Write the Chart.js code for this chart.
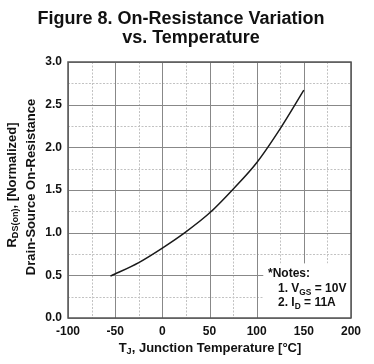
<!DOCTYPE html>
<html><head><meta charset="utf-8">
<script src="https://cdn.jsdelivr.net/npm/chart.js@4"></script>
<style>html,body{margin:0;padding:0;background:#fff}#wrap{width:374px;height:364px}</style>
</head><body><div id="wrap"><canvas id="c" width="374" height="364"></canvas></div>
<script>
// Data
const tempC = [-55, -25, 0, 25, 50, 75, 100, 125, 150];
const rdsNorm = [0.49, 0.65, 0.82, 1.01, 1.23, 1.51, 1.82, 2.22, 2.67];
const xTicks = [-100, -50, 0, 50, 100, 150, 200];
const yTicks = [0.0, 0.5, 1.0, 1.5, 2.0, 2.5, 3.0];
const xMinor = [-75, -25, 25, 75, 125, 175];
const yMinor = [0.25, 0.75, 1.25, 1.75, 2.25, 2.75];

const FONT = '"Liberation Sans", Arial, sans-serif';

function drawRich(ctx, parts, x, y, size, align) {
  let w = 0;
  const widths = parts.map(p => {
    ctx.font = 'bold ' + (p[1] ? size * 0.7 : size) + 'px ' + FONT;
    const m = ctx.measureText(p[0]).width; w += m; return m;
  });
  let cx = align === 'center' ? x - w / 2 : (align === 'right' ? x - w : x);
  ctx.textBaseline = 'middle';
  ctx.textAlign = 'left';
  parts.forEach((p, i) => {
    ctx.font = 'bold ' + (p[1] ? size * 0.7 : size) + 'px ' + FONT;
    ctx.fillText(p[0], cx, p[1] ? y + size * 0.3 : y);
    cx += widths[i];
  });
}

const decor = {
  id: 'decor',
  beforeDatasetsDraw(chart) {
    const ctx = chart.ctx, xs = chart.scales.x, ys = chart.scales.y, a = chart.chartArea;
    ctx.save();
    ctx.strokeStyle = '#c2c2c2'; ctx.lineWidth = 1; ctx.setLineDash([2, 1.5]);
    xMinor.forEach(v => { const p = Math.round(xs.getPixelForValue(v)) + 0.5; ctx.beginPath(); ctx.moveTo(p, a.top); ctx.lineTo(p, a.bottom); ctx.stroke(); });
    yMinor.forEach(v => { const p = Math.round(ys.getPixelForValue(v)) + 0.5; ctx.beginPath(); ctx.moveTo(a.left, p); ctx.lineTo(a.right, p); ctx.stroke(); });
    ctx.setLineDash([]); ctx.strokeStyle = '#888';
    xTicks.forEach(v => { const p = Math.round(xs.getPixelForValue(v)) + 0.5; ctx.beginPath(); ctx.moveTo(p, a.top); ctx.lineTo(p, a.bottom); ctx.stroke(); });
    yTicks.forEach(v => { const p = Math.round(ys.getPixelForValue(v)) + 0.5; ctx.beginPath(); ctx.moveTo(a.left, p); ctx.lineTo(a.right, p); ctx.stroke(); });
    const bx = xs.getPixelForValue(107), by = ys.getPixelForValue(0.64);
    ctx.fillStyle = '#fff';
    ctx.fillRect(bx, by, a.right - bx, a.bottom - by);
    ctx.strokeStyle = '#555'; ctx.lineWidth = 1.5;
    ctx.strokeRect(a.left, a.top, a.right - a.left, a.bottom - a.top);
    ctx.restore();
  },
  afterDraw(chart) {
    const ctx = chart.ctx;
    ctx.save();
    ctx.fillStyle = '#111';
    drawRich(ctx, [['Figure 8. On-Resistance Variation', false]], 181, 19, 18, 'center');
    drawRich(ctx, [['vs. Temperature', false]], 191, 38, 18, 'center');
    drawRich(ctx, [['*Notes:', false]], 268, 274, 12, 'left');
    drawRich(ctx, [['1. V', false], ['GS', true], [' = 10V', false]], 278, 289, 12, 'left');
    drawRich(ctx, [['2. I', false], ['D', true], [' = 11A', false]], 278, 303, 12, 'left');
    drawRich(ctx, [['T', false], ['J', true], [', Junction Temperature [°C]', false]], 210, 348, 13, 'center');
    ctx.translate(12, 185); ctx.rotate(-Math.PI / 2);
    drawRich(ctx, [['R', false], ['DS(on)', true], [', [Normalized]', false]], 0, 0, 13, 'center');
    ctx.rotate(Math.PI / 2); ctx.translate(-12, -185);
    ctx.translate(31, 187); ctx.rotate(-Math.PI / 2);
    drawRich(ctx, [['Drain-Source On-Resistance', false]], 0, 0, 13, 'center');
    ctx.restore();
  }
};

new Chart(document.getElementById('c'), {
  type: 'scatter',
  data: {
    datasets: [{
      data: tempC.map((t, i) => ({ x: t, y: rdsNorm[i] })),
      showLine: true,
      borderColor: '#1a1a1a',
      borderWidth: 1.5,
      pointRadius: 0,
      cubicInterpolationMode: 'monotone',
      fill: false
    }]
  },
  options: {
    responsive: false,
    animation: false,
    events: [],
    layout: { padding: { left: 0, right: 23, top: 62, bottom: 0 } },
    plugins: { legend: { display: false }, tooltip: { enabled: false }, title: { display: false } },
    scales: {
      x: {
        type: 'linear', min: -100, max: 200,
        afterBuildTicks: s => { s.ticks = xTicks.map(v => ({ value: v })); },
        afterFit: s => { s.height = 46; },
        grid: { display: false, drawTicks: false },
        border: { display: false },
        ticks: { padding: 6, maxRotation: 0, autoSkip: false, color: '#111', font: { family: FONT, size: 12, weight: 'bold' } }
      },
      y: {
        type: 'linear', min: 0, max: 3,
        afterBuildTicks: s => { s.ticks = yTicks.map(v => ({ value: v })); },
        afterFit: s => { s.width = 68; },
        grid: { display: false, drawTicks: false },
        border: { display: false },
        ticks: { padding: 6, autoSkip: false, color: '#111', callback: v => Number(v).toFixed(1), font: { family: FONT, size: 12, weight: 'bold' } }
      }
    }
  },
  plugins: [decor]
});
</script>
</body></html>
